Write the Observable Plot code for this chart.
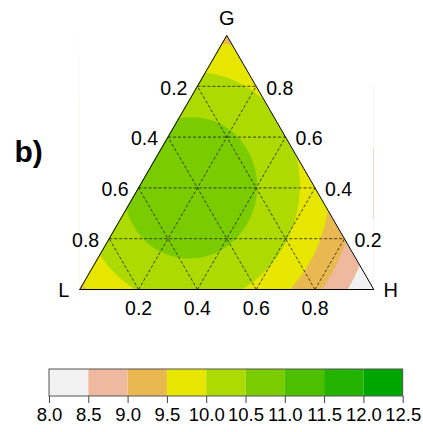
<!DOCTYPE html>
<html>
<head>
<meta charset="utf-8">
<script src="https://cdn.jsdelivr.net/npm/d3@7"></script>
<script src="https://cdn.jsdelivr.net/npm/@observablehq/plot@0.6"></script>
<style>
  html, body { margin: 0; padding: 0; background: white; }
  #chart svg { display: block; }
</style>
</head>
<body>
<div id="chart"></div>
<script>
// Mixture components at the triangle vertices (top, bottom-left, bottom-right)
const components = ["G", "L", "H"];
// Scheffé quadratic mixture model: pure-component effects (G, L, H)
const pureEffects = [9.35, 9.4, 7.9];
// Binary blending terms and their effects
const blendPairs = [["G", "L"], ["G", "H"], ["L", "H"]];
const blendEffects = [5.15, 5.35, 5.75];
// Ternary grid lines and their tick labels
const gridValues = [0.2, 0.4, 0.6, 0.8];
// Contour bands
const breaks = [8.0, 8.5, 9.0, 9.5, 10.0, 10.5, 11.0, 11.5, 12.0, 12.5];
const palette = ["#F2F2F2", "#EEB99F", "#E9B850", "#E6E600", "#ADDA00", "#7ACC00", "#4CBF00", "#24B300", "#00A600"];

const S = Math.sqrt(3) / 2;
const fmt = d3.format(".1f");
const font = "'Liberation Sans', Arial, sans-serif";

// Cartesian (x, y) inside the unit triangle -> proportions of G, L, H
function proportions(x, y) {
  const G = y / S;
  const H = x - G / 2;
  return {G, L: 1 - G - H, H};
}
function response(x, y) {
  const p = proportions(x, y);
  let v = 0;
  components.forEach((c, i) => { v += pureEffects[i] * p[c]; });
  blendPairs.forEach(([a, b], i) => { v += blendEffects[i] * p[a] * p[b]; });
  return v;
}

// Grid segments: constant G, constant H and constant L
const segments = [];
for (const v of gridValues) {
  segments.push({x1: v / 2, y1: v * S, x2: 1 - v / 2, y2: v * S});
  segments.push({x1: v, y1: 0, x2: v + (1 - v) / 2, y2: (1 - v) * S});
  segments.push({x1: 1 - v, y1: 0, x2: (1 - v) / 2, y2: (1 - v) * S});
}
const outline = [[0, 0], [0.5, S], [1, 0], [0, 0]];
const mask = [{x: 0, y: 0}, {x: 0.5, y: S}, {x: 1, y: 0}];
const colorScale = {type: "threshold", domain: breaks.slice(1, -1), range: palette};

const ternary = Plot.plot({
  width: 423,
  height: 340,
  margin: 0,
  style: {fontFamily: font, fontSize: "19.5px", background: "white", color: "black"},
  x: {domain: [0, 1], range: [79.3, 373.3], axis: null},
  y: {domain: [0, S], range: [289, 35], axis: null},
  color: colorScale,
  marks: [
    Plot.contour({x1: 0, y1: 0, x2: 1, y2: S, fill: response, thresholds: breaks.slice(0, -1), pixelSize: 1}),
    Plot.areaY(mask, {x: "x", y1: "y", y2: () => S, fill: "white"}),
    Plot.link(segments, {x1: "x1", y1: "y1", x2: "x2", y2: "y2", stroke: "#1a1a1a", strokeWidth: 0.8, strokeDasharray: "3,2"}),
    Plot.line(outline, {stroke: "black", strokeWidth: 1}),
    // L proportions along the left side
    Plot.text(gridValues, {x: v => v / 2, y: v => v * S, text: v => fmt(1 - v), textAnchor: "end", dx: -10, dy: 2}),
    // G proportions along the right side
    Plot.text(gridValues, {x: v => 1 - v / 2, y: v => v * S, text: v => fmt(v), textAnchor: "start", dx: 10, dy: 2}),
    // H proportions along the bottom
    Plot.text(gridValues, {x: v => v, y: 0, text: v => fmt(v), dy: 19}),
    // Vertex names
    Plot.text([components[0]], {x: 0.5, y: S, text: d => d, dy: -17, fontSize: 20}),
    Plot.text([components[1]], {x: 0, y: 0, text: d => d, dx: -16, dy: 1, fontSize: 20}),
    Plot.text([components[2]], {x: 1, y: 0, text: d => d, dx: 17, dy: 1, fontSize: 20}),
    Plot.text(["b)"], {frameAnchor: "top-left", text: d => d, textAnchor: "start", lineAnchor: "top", dx: 14, dy: 140, fontSize: 30, fontWeight: "bold"})
  ]
});

const bins = breaks.slice(0, -1).map((b, i) => ({from: b, to: breaks[i + 1]}));
const colorbar = Plot.plot({
  width: 423,
  height: 92,
  margin: 0,
  style: {fontFamily: font, fontSize: "18.5px", background: "white", color: "black"},
  x: {domain: [breaks[0], breaks[breaks.length - 1]], range: [49, 402.7], axis: null},
  y: {domain: [0, 1], range: [56, 29], axis: null},
  color: colorScale,
  marks: [
    Plot.rect(bins, {x1: "from", x2: "to", y1: 0, y2: 1, fill: "from"}),
    Plot.rect([0], {x1: breaks[0], x2: breaks[breaks.length - 1], y1: 0, y2: 1, fill: "none", stroke: "#555", strokeWidth: 1}),
    Plot.ruleX(breaks, {x: d => d, y1: 0, y2: -0.26, stroke: "#444"}),
    Plot.text(breaks, {x: d => d, y: -0.67, text: d => fmt(d)})
  ]
});

const root = document.getElementById("chart");
root.append(ternary, colorbar);
</script>
</body>
</html>
